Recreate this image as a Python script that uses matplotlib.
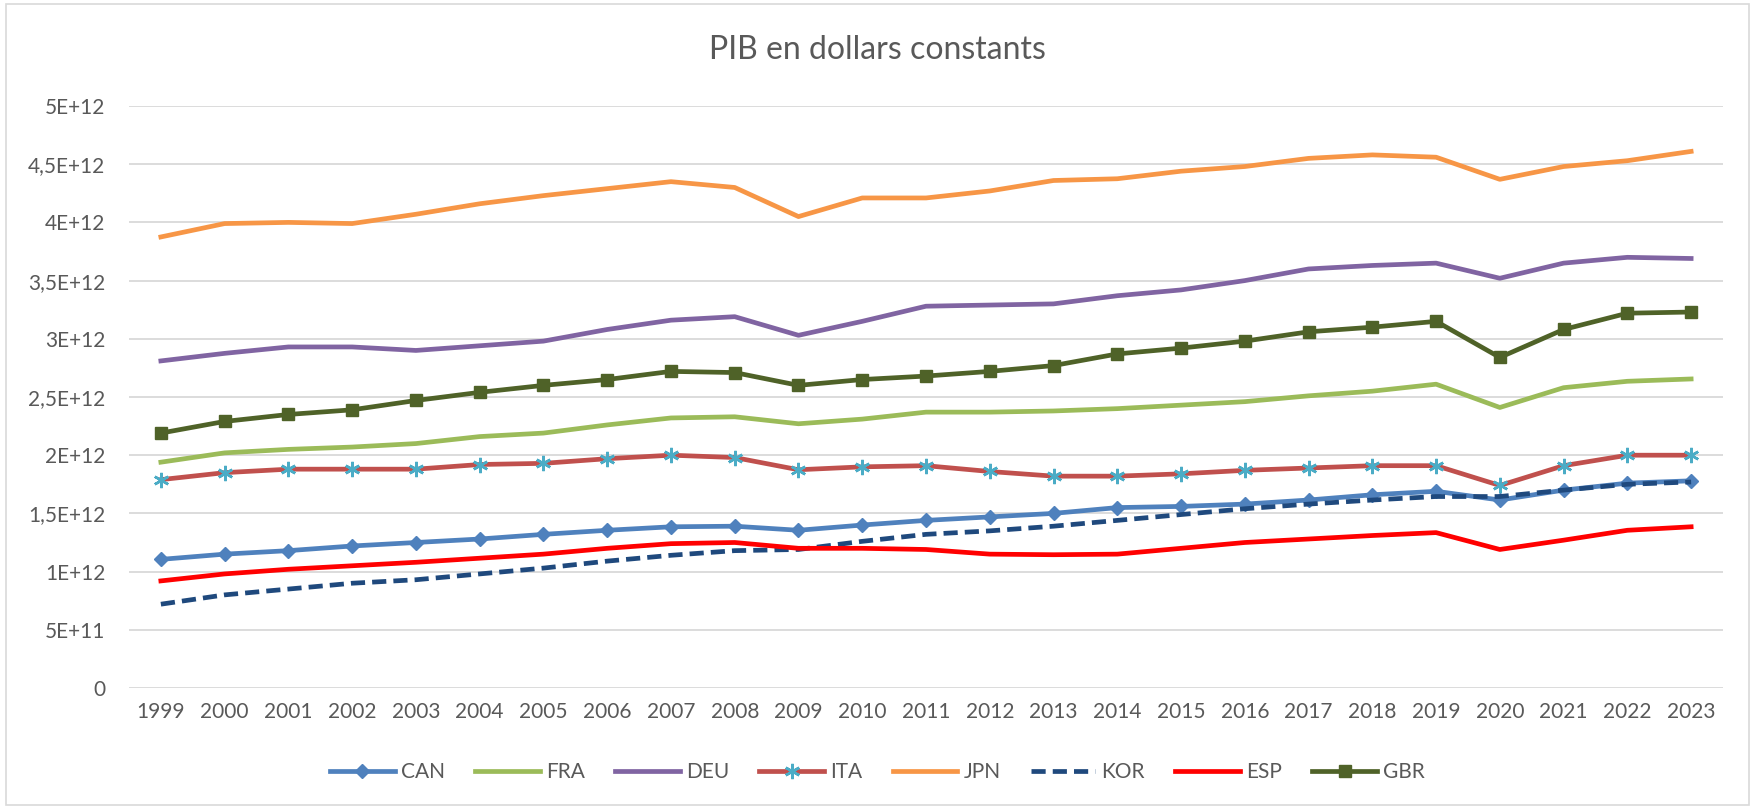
import numpy as np
import matplotlib
matplotlib.use("Agg")
import matplotlib.pyplot as plt

plt.rcParams['font.family'] = ['Lato', 'DejaVu Sans']

years = list(range(1999, 2024))

can = [1.105, 1.15, 1.18, 1.22, 1.25, 1.28, 1.32, 1.355, 1.385, 1.39, 1.355, 1.40, 1.44,
       1.47, 1.50, 1.55, 1.56, 1.58, 1.615, 1.66, 1.69, 1.615, 1.70, 1.76, 1.78]
fra = [1.94, 2.02, 2.05, 2.07, 2.10, 2.16, 2.19, 2.26, 2.32, 2.33, 2.27, 2.31, 2.37,
       2.37, 2.38, 2.40, 2.43, 2.46, 2.51, 2.55, 2.61, 2.41, 2.58, 2.635, 2.655]
deu = [2.81, 2.875, 2.93, 2.93, 2.90, 2.94, 2.98, 3.08, 3.16, 3.19, 3.03, 3.15, 3.28,
       3.29, 3.30, 3.37, 3.42, 3.50, 3.60, 3.63, 3.65, 3.52, 3.65, 3.70, 3.69]
ita = [1.79, 1.85, 1.88, 1.88, 1.88, 1.92, 1.93, 1.97, 2.00, 1.98, 1.875, 1.90, 1.91,
       1.86, 1.82, 1.82, 1.84, 1.87, 1.89, 1.91, 1.91, 1.74, 1.91, 2.00, 2.00]
jpn = [3.875, 3.99, 4.00, 3.99, 4.07, 4.16, 4.23, 4.29, 4.35, 4.30, 4.05, 4.21, 4.21,
       4.27, 4.36, 4.375, 4.44, 4.48, 4.55, 4.58, 4.56, 4.37, 4.48, 4.53, 4.61]
kor = [0.72, 0.80, 0.85, 0.90, 0.93, 0.98, 1.03, 1.09, 1.14, 1.18, 1.19, 1.26, 1.32,
       1.35, 1.39, 1.44, 1.49, 1.54, 1.58, 1.615, 1.645, 1.645, 1.70, 1.75, 1.77]
esp = [0.92, 0.98, 1.02, 1.05, 1.08, 1.115, 1.15, 1.20, 1.24, 1.25, 1.20, 1.20, 1.19,
       1.15, 1.145, 1.15, 1.20, 1.25, 1.28, 1.31, 1.335, 1.19, 1.27, 1.355, 1.385]
gbr = [2.19, 2.29, 2.35, 2.39, 2.47, 2.54, 2.60, 2.65, 2.72, 2.71, 2.60, 2.65, 2.68,
       2.72, 2.77, 2.87, 2.92, 2.98, 3.06, 3.10, 3.15, 2.84, 3.08, 3.22, 3.23]

tick_vals = [0, 0.5, 1, 1.5, 2, 2.5, 3, 3.5, 4, 4.5, 5]
tick_labels = ['0', '5E+11', '1E+12', '1,5E+12', '2E+12', '2,5E+12', '3E+12',
               '3,5E+12', '4E+12', '4,5E+12', '5E+12']

fig = plt.figure(figsize=(17.55, 8.07), dpi=100)
ax = fig.add_axes([129/1755, 1 - 688/807, 1594/1755, 582/807])

lw = 3.4
y = np.array(years)
ax.plot(y, np.array(can) * 1e12, color='#4F81BD', lw=lw, marker='D', ms=7, label='CAN')
ax.plot(y, np.array(fra) * 1e12, color='#9BBB59', lw=lw, label='FRA')
ax.plot(y, np.array(deu) * 1e12, color='#8064A2', lw=lw, label='DEU')
ax.plot(y, np.array(ita) * 1e12, color='#C0504D', lw=lw, marker=(6, 2, 0), ms=11,
        mec='#4BACC6', mew=1.8, label='ITA')
ax.plot(y, np.array(jpn) * 1e12, color='#F79646', lw=lw, label='JPN')
ax.plot(y, np.array(kor) * 1e12, color='#1F497D', lw=lw, ls=(0, (3, 1.5)), label='KOR')
ax.plot(y, np.array(esp) * 1e12, color='#FF0000', lw=lw, label='ESP')
ax.plot(y, np.array(gbr) * 1e12, color='#4F6228', lw=lw, marker='s', ms=8, label='GBR')

ax.set_xlim(1998.5, 2023.5)
ax.set_ylim(0, 5e12)
ax.set_xticks(years)
ax.set_xticklabels([str(v) for v in years])
ax.set_yticks([v * 1e12 for v in tick_vals])
ax.set_yticklabels(tick_labels)
ax.tick_params(length=0, labelsize=15, colors='#595959')
ax.tick_params(axis='y', pad=17)
ax.tick_params(axis='x', pad=10)
ax.grid(axis='y', color='#D9D9D9', lw=1.3)
ax.set_axisbelow(True)
for s in ax.spines.values():
    s.set_visible(False)

fig.text(0.5, 1 - 50/807, 'PIB en dollars constants', ha='center', va='center',
         fontsize=23, color='#595959')

fig.legend(loc='center', bbox_to_anchor=(0.5, 1 - 772/807), ncol=8, frameon=False,
           fontsize=15, labelcolor='#595959', handlelength=3.1, columnspacing=1.45,
           handletextpad=0.3)

fig.add_artist(plt.Rectangle((6/1755, 2/807), 1743/1755, 801/807, fill=False,
                             ec='#D9D9D9', lw=1.2, transform=fig.transFigure))

fig.savefig('out.png', dpi=100)
